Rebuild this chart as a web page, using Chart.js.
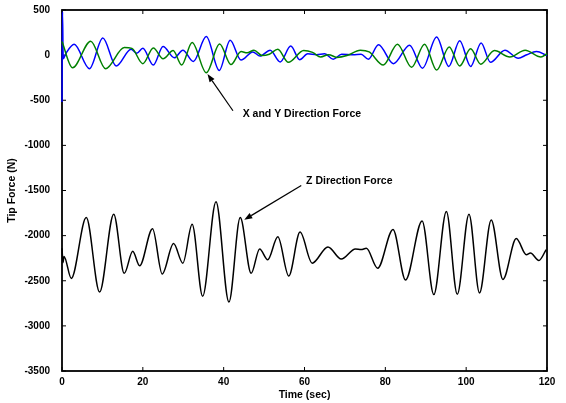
<!DOCTYPE html>
<html>
<head>
<meta charset="utf-8">
<script src="https://cdn.jsdelivr.net/npm/chart.js@4.4.0/dist/chart.umd.min.js"></script>
<style>
  body { margin: 0; background: #fff; }
  #wrap { width: 566px; height: 403px; }
</style>
</head>
<body>
<div id="wrap"><canvas id="tipForce" width="566" height="403"></canvas></div>
<script>
// X direction force (blue)
var xTime  = [0, 0.12, 0.3, 1.0, 3.0, 6.8, 10.1, 13.4, 17.1, 18.5, 20.0, 22.6, 25.0, 27.8, 29.9, 32.5, 35.7, 38.9, 41.6, 44.3, 47.2, 49.0, 51.5, 54.0, 56.6, 58.8, 60.8, 63.0, 65.0, 67.1, 69.2, 72.0, 74.0, 75.8, 78.3, 82.0, 86.0, 89.2, 92.7, 95.7, 98.4, 101.1, 103.7, 106.0, 109.6, 112.9, 115.0, 117.4, 120];
var xForce = [-520, 480, -40, 20, 120, -150, 190, -120, 65, 20, 75, -110, 95, -30, 55, -70, 205, -170, 165, -55, 35, -10, 55, -75, 100, -50, 15, 5, 15, -45, 10, 5, 10, -45, 115, -95, 110, -145, 200, -125, 160, -125, 135, -80, 55, -35, 5, 40, -5];

// Y direction force (green)
var yTime  = [0, 2.6, 7.1, 10.8, 15.4, 17.3, 20.0, 22.6, 25.0, 27.5, 29.6, 32.2, 35.7, 39.0, 41.8, 44.3, 45.8, 47.5, 49.5, 51.3, 53.4, 56.0, 59.8, 62.0, 64.0, 66.0, 68.0, 70.5, 73.8, 76.0, 79.5, 83.0, 86.5, 89.7, 92.7, 95.8, 98.4, 101.1, 103.6, 107.0, 110.8, 114.6, 118.5, 120];
var yForce = [150, -140, 155, -150, 85, 75, -95, 80, -40, 50, -110, 140, -195, 122, -105, 40, 25, 55, -5, 10, 65, -80, 50, 30, -20, 5, -25, -5, 55, 35, -110, 120, -135, 120, -165, 90, -120, 70, -100, 50, -20, 55, -20, 15];

// Z direction force (black)
var zTime  = [0, 0.25, 0.5, 2.3, 6.0, 9.3, 12.8, 15.4, 17.5, 19.2, 22.4, 24.8, 27.6, 29.9, 32.2, 34.8, 38.1, 41.3, 44.1, 46.8, 48.9, 50.9, 53.4, 56.1, 58.9, 61.9, 65.8, 69.1, 72.6, 74.0, 75.3, 78.1, 81.9, 85.0, 89.1, 92.0, 95.1, 97.8, 100.7, 103.3, 106.2, 109.1, 112.4, 114.9, 115.9, 118.0, 119.8];
var zForce = [-2140, -2300, -2230, -2474, -1800, -2624, -1762, -2418, -2174, -2335, -1923, -2425, -2088, -2305, -1875, -2672, -1624, -2736, -1800, -2418, -2148, -2268, -2013, -2447, -1961, -2305, -2125, -2260, -2148, -2155, -2140, -2361, -1931, -2492, -1837, -2653, -1732, -2650, -1762, -2635, -1826, -2485, -2032, -2212, -2193, -2275, -2155];

var xTicks = [0, 20, 40, 60, 80, 100, 120];
var yTicks = [-3500, -3000, -2500, -2000, -1500, -1000, -500, 0, 500];

var notes = [
  { text: 'X and Y Direction Force', at: [44.7, -649], from: [42.3, -616], to: [36.0, -210] },
  { text: 'Z Direction Force', at: [60.4, -1397], from: [59.2, -1445], to: [45.1, -1824] }
];

function pairs(t, v) {
  return t.map(function(x, i) { return { x: x, y: v[i] }; });
}

var boldFont = 'Liberation Sans, Arial, sans-serif';

var frameTicks = {
  id: 'frameTicks',
  beforeDatasetsDraw: function(chart) {
    var ctx = chart.ctx, a = chart.chartArea;
    var xs = chart.scales.x, ys = chart.scales.y;
    ctx.save();
    ctx.strokeStyle = '#000';
    ctx.lineWidth = 1;
    ctx.beginPath();
    xs.ticks.forEach(function(t) {
      var px = xs.getPixelForValue(t.value);
      ctx.moveTo(px, a.bottom); ctx.lineTo(px, a.bottom - 4);
      ctx.moveTo(px, a.top); ctx.lineTo(px, a.top + 4);
    });
    ys.ticks.forEach(function(t) {
      var py = ys.getPixelForValue(t.value);
      ctx.moveTo(a.left, py); ctx.lineTo(a.left + 4, py);
      ctx.moveTo(a.right, py); ctx.lineTo(a.right - 4, py);
    });
    ctx.stroke();
    ctx.lineWidth = 1.8;
    ctx.strokeRect(a.left, a.top, a.right - a.left, a.bottom - a.top);
    ctx.restore();
  },
  afterDatasetsDraw: function(chart) {
    var ctx = chart.ctx;
    var xs = chart.scales.x, ys = chart.scales.y;
    ctx.save();
    ctx.fillStyle = '#000';
    ctx.strokeStyle = '#000';
    ctx.lineWidth = 1.2;
    ctx.font = 'bold 10.5px ' + boldFont;
    ctx.textAlign = 'left';
    ctx.textBaseline = 'middle';
    notes.forEach(function(n) {
      var x0 = xs.getPixelForValue(n.from[0]), y0 = ys.getPixelForValue(n.from[1]);
      var x1 = xs.getPixelForValue(n.to[0]), y1 = ys.getPixelForValue(n.to[1]);
      var ang = Math.atan2(y1 - y0, x1 - x0);
      var len = 8, w = 3;
      var bx = x1 - len * Math.cos(ang), by = y1 - len * Math.sin(ang);
      ctx.beginPath();
      ctx.moveTo(x0, y0);
      ctx.lineTo(bx, by);
      ctx.stroke();
      ctx.beginPath();
      ctx.moveTo(x1, y1);
      ctx.lineTo(bx + w * Math.sin(ang), by - w * Math.cos(ang));
      ctx.lineTo(bx - w * Math.sin(ang), by + w * Math.cos(ang));
      ctx.closePath();
      ctx.fill();
      ctx.fillText(n.text, xs.getPixelForValue(n.at[0]), ys.getPixelForValue(n.at[1]));
    });
    ctx.restore();
  }
};

var lineStyle = {
  borderWidth: 1.5,
  pointRadius: 0,
  fill: false,
  cubicInterpolationMode: 'monotone',
  clip: 3
};

var plain = function(v) { return String(v); };

var ctx = document.getElementById('tipForce');
var tipChart = new Chart(ctx, {
  type: 'line',
  data: {
    datasets: [
      Object.assign({ label: 'Y', data: pairs(yTime, yForce), borderColor: '#008000' }, lineStyle),
      Object.assign({ label: 'X', data: pairs(xTime, xForce), borderColor: '#0000ff' }, lineStyle),
      Object.assign({ label: 'Z', data: pairs(zTime, zForce), borderColor: '#000000' }, lineStyle)
    ]
  },
  options: {
    responsive: false,
    animation: false,
    devicePixelRatio: 1,
    layout: { padding: { left: 0, right: 19, top: 9, bottom: 0 } },
    plugins: { legend: { display: false }, tooltip: { enabled: false } },
    scales: {
      x: {
        type: 'linear',
        min: 0,
        max: 120,
        afterBuildTicks: function(s) { s.ticks = xTicks.map(function(v) { return { value: v }; }); },
        afterFit: function(s) { s.height = 32; },
        grid: { display: false },
        border: { display: false },
        ticks: { color: '#000', padding: -3, maxRotation: 0, callback: plain, font: { family: boldFont, size: 10, weight: 'bold' } },
        title: { display: true, text: 'Time (sec)', color: '#000', padding: { top: 0, bottom: 2 }, font: { family: boldFont, size: 10.5, weight: 'bold' } }
      },
      y: {
        type: 'linear',
        min: -3500,
        max: 500,
        afterBuildTicks: function(s) { s.ticks = yTicks.map(function(v) { return { value: v }; }); },
        afterFit: function(s) { s.width = 62; },
        grid: { display: false },
        border: { display: false },
        ticks: { color: '#000', padding: 4, callback: plain, font: { family: boldFont, size: 10, weight: 'bold' } },
        title: { display: true, text: 'Tip Force (N)', color: '#000', padding: { top: 6, bottom: 0 }, font: { family: boldFont, size: 10.5, weight: 'bold' } }
      }
    }
  },
  plugins: [frameTicks]
});
</script>
</body>
</html>
